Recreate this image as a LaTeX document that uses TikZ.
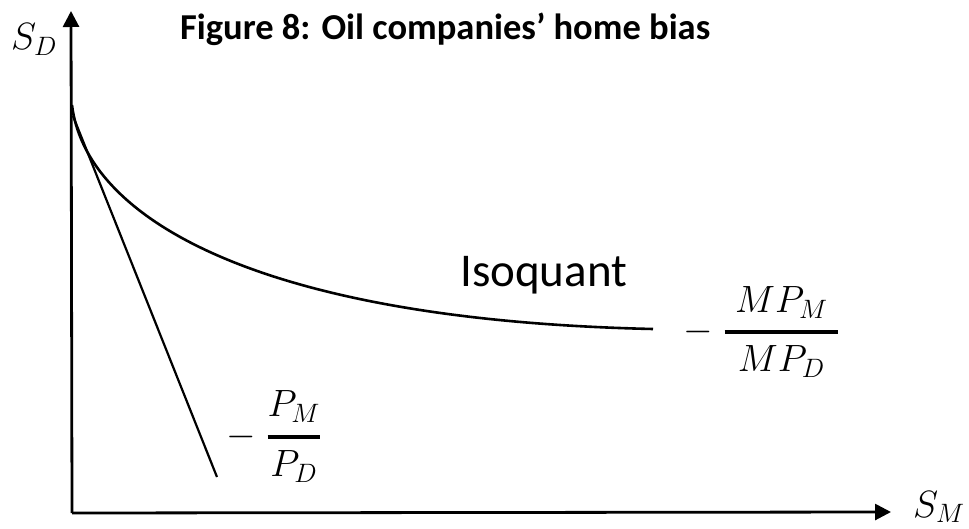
\RequirePackage{fix-cm}
\documentclass[tikz,border=0pt]{standalone}
\usepackage{amsmath}
\usepackage{fontspec}
\setmainfont{Carlito}
\usetikzlibrary{arrows.meta}
\begin{document}
\begin{tikzpicture}[x=1pt,y=-1pt,
  axis/.style={line width=2.8pt,-{Triangle[length=16pt,width=16pt]}},
  curve/.style={line width=2.6pt},
  lbl/.style={inner sep=0pt,anchor=base west},
  mathlbl/.style={inner sep=0pt,anchor=base west,font=\fontsize{38}{46}\selectfont}]
\useasboundingbox (0,0) rectangle (969,529);
\coordinate (O) at (72,513);
\coordinate (ytip) at (71,11);
\coordinate (xtip) at (891,512);
\draw[axis] (O) -- (ytip);
\draw[axis] (O) -- (xtip);
\coordinate (top) at (72,105);
\coordinate (iend) at (653,329);
\coordinate (lstart) at (73,116);
\coordinate (lend) at (217,477);
\draw[curve] (top) .. controls (85,215) and (250,320) .. (iend);
\draw[line width=2.2pt] (lstart) -- (lend);
\node[lbl,font=\fontsize{36.5}{44}\selectfont\bfseries] (title) at (180,40) {Figure 8: Oil companies’ home bias};
\node[lbl,font=\fontsize{47}{56}\selectfont] (iso) at (460,287) {Isoquant};
\node[mathlbl] (sd) at (11,50) {$S_D$};
\node[mathlbl] (sm) at (913,517) {$S_M$};
\node[mathlbl] (mp) at (683,341.5) {$\displaystyle -\;\genfrac{}{}{4pt}{0}{\;MP_M\;}{\;MP_D\;}$};
\node[mathlbl] (pp) at (226,446) {$\displaystyle -\;\genfrac{}{}{4pt}{0}{P_M}{P_D}$};
\end{tikzpicture}
\end{document}
